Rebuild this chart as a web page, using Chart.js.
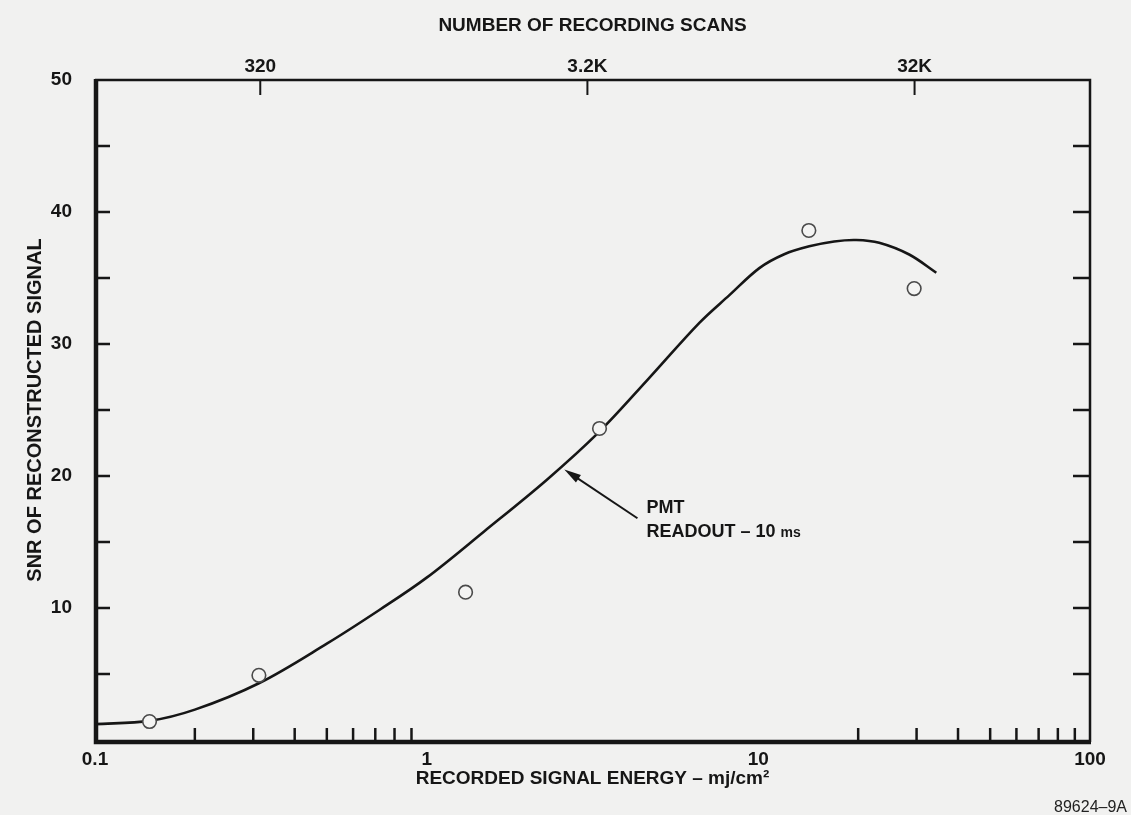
<!DOCTYPE html>
<html>
<head>
<meta charset="utf-8">
<script src="https://cdn.jsdelivr.net/npm/chart.js@4.4.1/dist/chart.umd.min.js"></script>
<style>
  html, body { margin: 0; padding: 0; background: #f1f1f0; }
  canvas { display: block; }
</style>
</head>
<body>
<canvas id="grafico" width="1131" height="815"></canvas>
<script>
// curva SNR x energia gravada (leitura PMT 10 ms) + pontos medidos
const curvaEnergia = [0.1, 0.146, 0.2, 0.312, 0.5, 0.72, 1.0, 1.49, 2.3, 3.3, 4.64, 6.64, 8.18, 10.07, 11.97, 14.24, 16.93, 19.73, 23.14, 28.5, 34.4]
const curvaSNR     = [1.2, 1.45, 2.3, 4.3, 7.3, 9.85, 12.3, 15.8, 19.7, 23.3, 27.3, 31.6, 33.7, 35.75, 36.8, 37.4, 37.77, 37.88, 37.67, 36.78, 35.4]

const medidoEnergia = [0.146, 0.312, 1.31, 3.32, 14.2, 29.5]
const medidoSNR     = [1.4, 4.9, 11.2, 23.6, 38.6, 34.2]

// eixos
const energiaTicks  = [0.1, 1, 10, 100]
const energiaLabels = ['0.1', '1', '10', '100']
const energiaMenores = [0.2, 0.3, 0.4, 0.5, 0.6, 0.7, 0.8, 0.9, 20, 30, 40, 50, 60, 70, 80, 90]
const varredurasTicks  = [320, 3200, 32000]
const varredurasLabels = ['320', '3.2K', '32K']
const snrTicks = [0, 5, 10, 15, 20, 25, 30, 35, 40, 45, 50]
const snrLabels = ['', '', '10', '', '20', '', '30', '', '40', '', '50']

// anotacao (coordenadas em dados)
const setaPonta = { x: 2.6, y: 20.5 }
const setaCauda = { x: 4.32, y: 16.8 }

const FONTE = "'Liberation Sans', Arial, Helvetica, sans-serif"
const PRETO = '#161616'

const fonteTick = { family: FONTE, size: 19, weight: 'bold' }
const fonteTitulo = { family: FONTE, size: 19, weight: 'bold' }

// desenha moldura, tracos internos, seta e textos soltos
const molduraPlugin = {
  id: 'moldura',
  afterDraw(chart) {
    const { ctx, chartArea: a, scales } = chart
    const x = scales.x, y = scales.y, x2 = scales.x2
    ctx.save()
    ctx.strokeStyle = PRETO
    ctx.lineCap = 'butt'

    // topo e direita (mais finos)
    ctx.lineWidth = 2.5
    ctx.beginPath()
    ctx.moveTo(a.left, a.top)
    ctx.lineTo(a.right, a.top)
    ctx.lineTo(a.right, a.bottom + 2)
    ctx.stroke()

    // esquerda e base (grossos)
    ctx.lineWidth = 4.5
    ctx.beginPath()
    ctx.moveTo(a.left + 1, a.top - 1)
    ctx.lineTo(a.left + 1, a.bottom + 2)
    ctx.lineTo(a.right + 1, a.bottom + 2)
    ctx.stroke()

    // tracos do eixo y, dos dois lados
    ctx.lineWidth = 2.5
    snrTicks.slice(1, -1).forEach(v => {
      const py = y.getPixelForValue(v)
      ctx.beginPath()
      ctx.moveTo(a.left, py); ctx.lineTo(a.left + 15, py)
      ctx.moveTo(a.right, py); ctx.lineTo(a.right - 17, py)
      ctx.stroke()
    })

    // tracos do topo (varreduras)
    ctx.lineWidth = 2
    varredurasTicks.forEach(v => {
      const px = x2.getPixelForValue(v)
      ctx.beginPath()
      ctx.moveTo(px, a.top); ctx.lineTo(px, a.top + 15)
      ctx.stroke()
    })

    // tracos menores da base
    ctx.lineWidth = 2.5
    energiaMenores.forEach(v => {
      const px = x.getPixelForValue(v)
      ctx.beginPath()
      ctx.moveTo(px, a.bottom); ctx.lineTo(px, a.bottom - 12)
      ctx.stroke()
    })

    // seta PMT
    const tx = x.getPixelForValue(setaPonta.x), ty = y.getPixelForValue(setaPonta.y)
    const cx = x.getPixelForValue(setaCauda.x), cy = y.getPixelForValue(setaCauda.y)
    const ang = Math.atan2(ty - cy, tx - cx)
    ctx.lineWidth = 2
    ctx.beginPath()
    ctx.moveTo(cx, cy); ctx.lineTo(tx - Math.cos(ang) * 8, ty - Math.sin(ang) * 8)
    ctx.stroke()
    ctx.fillStyle = PRETO
    ctx.beginPath()
    ctx.moveTo(tx, ty)
    ctx.lineTo(tx - Math.cos(ang) * 17 + Math.sin(ang) * 4.5, ty - Math.sin(ang) * 17 - Math.cos(ang) * 4.5)
    ctx.lineTo(tx - Math.cos(ang) * 17 - Math.sin(ang) * 4.5, ty - Math.sin(ang) * 17 + Math.cos(ang) * 4.5)
    ctx.closePath()
    ctx.fill()

    ctx.textBaseline = 'middle'
    ctx.textAlign = 'left'
    ctx.font = `bold 18px ${FONTE}`
    ctx.fillText('PMT', cx + 9, cy - 10)
    const txt = 'READOUT \u2013 10 '
    ctx.fillText(txt, cx + 9, cy + 14)
    const w = ctx.measureText(txt).width
    ctx.font = `bold 14px ${FONTE}`
    ctx.fillText('ms', cx + 9 + w, cy + 15)

    // codigo da figura
    ctx.font = `16px ${FONTE}`
    ctx.textAlign = 'right'
    ctx.fillStyle = '#222'
    ctx.fillText('89624\u20139A', 1127, 808)
    ctx.restore()
  }
}

new Chart(document.getElementById('grafico').getContext('2d'), {
  type: 'scatter',
  data: {
    datasets: [
      {
        label: 'PMT readout - 10 ms',
        data: curvaEnergia.map((e, i) => ({ x: e, y: curvaSNR[i] })),
        showLine: true,
        borderColor: PRETO,
        borderWidth: 2.6,
        pointRadius: 0,
        tension: 0.35,
        order: 2
      },
      {
        label: 'medido',
        data: medidoEnergia.map((e, i) => ({ x: e, y: medidoSNR[i] })),
        showLine: false,
        pointRadius: 6.8,
        pointBorderWidth: 1.6,
        pointBorderColor: '#4a4a4a',
        pointBackgroundColor: '#f4f4f3',
        order: 1
      }
    ]
  },
  options: {
    responsive: false,
    animation: false,
    devicePixelRatio: 1,
    layout: { padding: { left: 0, right: 41, top: 0, bottom: 0 } },
    plugins: { legend: { display: false }, tooltip: { enabled: false } },
    scales: {
      x: {
        type: 'logarithmic',
        position: 'bottom',
        min: 0.1,
        max: 100,
        afterBuildTicks: s => { s.ticks = energiaTicks.map(v => ({ value: v })) },
        afterFit: s => { s.height = 75 },
        ticks: {
          autoSkip: false, maxRotation: 0, padding: 8, color: PRETO, font: fonteTick,
          callback: (v, i) => energiaLabels[i]
        },
        grid: { display: false, drawTicks: false },
        border: { display: false },
        title: {
          display: true,
          text: 'RECORDED SIGNAL ENERGY \u2013 mj/cm\u00b2',
          color: PRETO, font: fonteTitulo,
          padding: { top: 0, bottom: 25 }
        }
      },
      x2: {
        type: 'logarithmic',
        position: 'top',
        min: 100,
        max: 110000,
        afterBuildTicks: s => { s.ticks = varredurasTicks.map(v => ({ value: v })) },
        afterFit: s => { s.height = 80 },
        ticks: {
          autoSkip: false, maxRotation: 0, padding: 2, color: PRETO, font: fonteTick,
          callback: (v, i) => varredurasLabels[i]
        },
        grid: { display: false, drawTicks: false },
        border: { display: false },
        title: {
          display: true,
          text: 'NUMBER OF RECORDING SCANS',
          color: PRETO, font: fonteTitulo,
          padding: { top: 14, bottom: 0 }
        }
      },
      y: {
        type: 'linear',
        position: 'left',
        min: 0,
        max: 50,
        afterBuildTicks: s => { s.ticks = snrTicks.map(v => ({ value: v })) },
        afterFit: s => { s.width = 95 },
        ticks: {
          autoSkip: false, padding: 23, color: PRETO, font: fonteTick,
          callback: (v, i) => snrLabels[i]
        },
        grid: { display: false, drawTicks: false },
        border: { display: false },
        title: {
          display: true,
          text: 'SNR OF RECONSTRUCTED SIGNAL',
          color: PRETO, font: { family: FONTE, size: 20, weight: 'bold' },
          padding: { top: 23, bottom: 0 }
        }
      }
    }
  },
  plugins: [molduraPlugin]
})
</script>
</body>
</html>
